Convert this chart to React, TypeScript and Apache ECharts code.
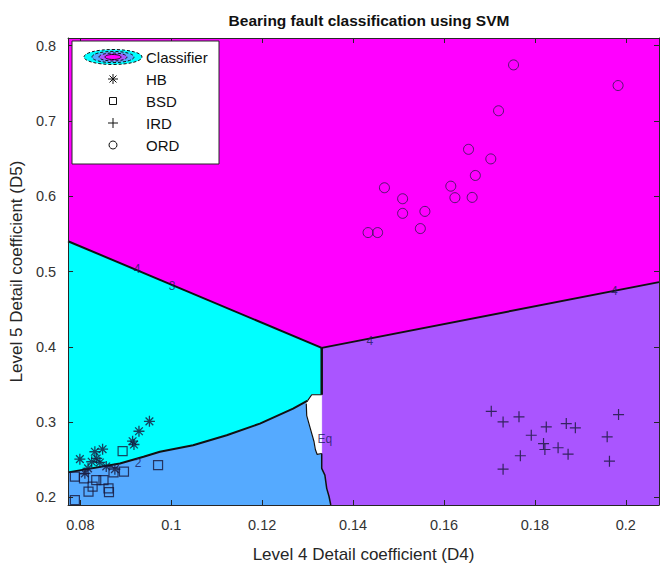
import React, { useEffect, useRef } from "react";
import * as echarts from "echarts";

const X_MIN = 0.0773;
const X_MAX = 0.2073;
const Y_MIN = 0.19;
const Y_MAX = 0.81;

const xTicks = [0.08, 0.1, 0.12, 0.14, 0.16, 0.18, 0.2];
const yTicks = [0.2, 0.3, 0.4, 0.5, 0.6, 0.7, 0.8];

const titleText = "Bearing fault classification using SVM";
const xName = "Level 4 Detail coefficient (D4)";
const yName = "Level 5 Detail coefficient (D5)";
const legendNames = ["Classifier", "HB", "BSD", "IRD", "ORD"];

// HB (asterisk)
const hbPoints = [
  [0.0952, 0.3011], [0.0929, 0.2879], [0.0915, 0.2747], [0.0918, 0.2703],
  [0.0849, 0.2641], [0.0832, 0.2607], [0.0799, 0.2509], [0.0836, 0.2518],
  [0.0843, 0.2465], [0.0825, 0.2474], [0.0876, 0.2376], [0.081, 0.232],
  [0.0817, 0.2386], [0.0857, 0.2412],
];
// BSD (square)
const bsdPoints = [
  [0.0893, 0.2615], [0.0971, 0.2429], [0.0896, 0.2342], [0.0788, 0.2276],
  [0.0808, 0.2253], [0.0835, 0.2231], [0.0851, 0.2231], [0.0873, 0.2333],
  [0.0827, 0.2144], [0.0818, 0.2078], [0.0862, 0.2121], [0.0863, 0.207],
  [0.0788, 0.1966],
];
// IRD (plus)
const irdPoints = [
  [0.1704, 0.3144], [0.173, 0.3003], [0.1765, 0.307], [0.1792, 0.2826],
  [0.1825, 0.2937], [0.1869, 0.2981], [0.1889, 0.2924], [0.1819, 0.2716],
  [0.1822, 0.2637], [0.1851, 0.266], [0.1873, 0.2575], [0.1768, 0.2554],
  [0.173, 0.2376], [0.1984, 0.31], [0.1959, 0.2805], [0.1964, 0.2482],
];
// ORD (circle)
const ordPoints = [
  [0.1753, 0.7743], [0.1983, 0.7469], [0.172, 0.7134], [0.1654, 0.6622],
  [0.1703, 0.6495], [0.1669, 0.6275], [0.1469, 0.6112], [0.1615, 0.6133],
  [0.1509, 0.5966], [0.1624, 0.598], [0.1662, 0.5984], [0.1509, 0.5772],
  [0.1558, 0.5798], [0.1548, 0.557], [0.1433, 0.5517], [0.1454, 0.5517],
];

// classifier decision regions
const magentaCyanLine = [[X_MIN, 0.5402], [0.1331, 0.3986]];
const magentaPurpleLine = [[0.1331, 0.3986], [X_MAX, 0.4859]];
const cyanPurpleLine = [[0.1331, 0.3986], [0.1331, 0.3364]];
const cyanBlueLine = [
  [X_MIN, 0.2333], [0.0887, 0.2452], [0.0939, 0.254], [0.0975, 0.2607],
  [0.1048, 0.2694], [0.1122, 0.2826], [0.1195, 0.2981], [0.1268, 0.3179],
  [0.13, 0.3285],
];
const whiteLeftEdge = [
  [0.1297, 0.3246], [0.1298, 0.3087], [0.1306, 0.2915], [0.1314, 0.2743],
  [0.1317, 0.2637], [0.1321, 0.2571], [0.1331, 0.2584],
];
const bluePurpleLine = [
  [0.1331, 0.2584], [0.1331, 0.2386], [0.1338, 0.2297], [0.1342, 0.2121],
  [0.1347, 0.2016], [0.1351, Y_MIN],
];
const whiteTopEdge = [[0.13, 0.3285], [0.1309, 0.3364], [0.1331, 0.3364]];

const magentaRegion = [[X_MIN, Y_MAX], [X_MAX, Y_MAX], ...magentaPurpleLine.slice().reverse(), [X_MIN, 0.5402]];
const purpleRegion = [...magentaPurpleLine, [X_MAX, Y_MIN], ...bluePurpleLine.slice().reverse()];
const cyanRegion = [...magentaCyanLine, [0.1331, 0.3364], [0.1309, 0.3364], ...cyanBlueLine.slice().reverse()];
const whiteRegion = [...whiteTopEdge, [0.1331, 0.2584], ...whiteLeftEdge.slice().reverse()];
const blueRegion = [...cyanBlueLine, ...whiteLeftEdge, ...bluePurpleLine.slice(1), [X_MIN, Y_MIN]];

const regions = [magentaRegion, purpleRegion, cyanRegion, blueRegion, whiteRegion];
const regionColors = ["#ff00ff", "#aa55ff", "#00ffff", "#55aaff", "#ffffff"];

const contourLabelTexts = ["4", "4", "3", "4", "2", "Eq"];
const contourLabelPoints = [
  [0.1437, 0.4079], [0.1975, 0.474], [0.1002, 0.4806], [0.0925, 0.5031],
  [0.0927, 0.2452], [0.1338, 0.2782],
];

const FONT = "'Liberation Sans', Arial, Helvetica, sans-serif";
const MARK = "#16163a";

const ASTERISK = "path://M5,0L5,10M0,5L10,5M1.5,1.5L8.5,8.5M8.5,1.5L1.5,8.5";
const PLUS = "path://M5,0L5,10M0,5L10,5";

function lineSeries(data: number[][], width: number) {
  return {
    type: "line",
    data,
    showSymbol: false,
    symbol: "none",
    silent: true,
    z: 3,
    lineStyle: { color: "#111", width },
  };
}

export default function App() {
  const ref = useRef<HTMLDivElement>(null);
  useEffect(() => {
    const chart = echarts.init(ref.current!, null, { renderer: "svg" });
    const axisCommon = {
      type: "value",
      splitLine: { show: false },
      axisLine: { show: true, lineStyle: { color: "#262626", width: 1 } },
      z: 10,
    };
    const lx = 113;
    const rows = [57, 79, 101, 123, 145];
    const legendGraphics: any[] = [
      { type: "rect", shape: { x: 72, y: 41, width: 147, height: 123 }, style: { fill: "#fff", stroke: "#262626", lineWidth: 1 }, z: 100 },
      { type: "ellipse", shape: { cx: lx, cy: rows[0], rx: 29, ry: 7.5 }, style: { fill: "#00ffff", stroke: "#111", lineWidth: 1, lineDash: [3, 2] }, z: 101 },
      { type: "ellipse", shape: { cx: lx, cy: rows[0], rx: 21, ry: 5.6 }, style: { fill: "#55aaff", stroke: "#111", lineWidth: 1, lineDash: [3, 2] }, z: 102 },
      { type: "ellipse", shape: { cx: lx, cy: rows[0], rx: 14, ry: 4 }, style: { fill: "#aa55ff", stroke: "#111", lineWidth: 1, lineDash: [3, 2] }, z: 103 },
      { type: "ellipse", shape: { cx: lx, cy: rows[0], rx: 8, ry: 2.5 }, style: { fill: "#ff00ff", stroke: "#111", lineWidth: 1 }, z: 104 },
      // HB asterisk
      { type: "line", shape: { x1: lx, y1: rows[1] - 5, x2: lx, y2: rows[1] + 5 }, style: { stroke: "#111", lineWidth: 1 }, z: 101 },
      { type: "line", shape: { x1: lx - 5, y1: rows[1], x2: lx + 5, y2: rows[1] }, style: { stroke: "#111", lineWidth: 1 }, z: 101 },
      { type: "line", shape: { x1: lx - 3.5, y1: rows[1] - 3.5, x2: lx + 3.5, y2: rows[1] + 3.5 }, style: { stroke: "#111", lineWidth: 1 }, z: 101 },
      { type: "line", shape: { x1: lx + 3.5, y1: rows[1] - 3.5, x2: lx - 3.5, y2: rows[1] + 3.5 }, style: { stroke: "#111", lineWidth: 1 }, z: 101 },
      // BSD square
      { type: "rect", shape: { x: lx - 3.5, y: rows[2] - 3.5, width: 7, height: 7 }, style: { fill: "none", stroke: "#111", lineWidth: 1 }, z: 101 },
      // IRD plus
      { type: "line", shape: { x1: lx, y1: rows[3] - 5, x2: lx, y2: rows[3] + 5 }, style: { stroke: "#111", lineWidth: 1 }, z: 101 },
      { type: "line", shape: { x1: lx - 5, y1: rows[3], x2: lx + 5, y2: rows[3] }, style: { stroke: "#111", lineWidth: 1 }, z: 101 },
      // ORD circle
      { type: "circle", shape: { cx: lx, cy: rows[4], r: 4 }, style: { fill: "none", stroke: "#111", lineWidth: 1 }, z: 101 },
      ...legendNames.map((n, i) => ({
        type: "text",
        x: 146,
        y: rows[i],
        style: { text: n, fill: "#111", font: `15px ${FONT}`, verticalAlign: "middle", align: "left" },
        z: 105,
      })),
    ];

    const option: any = {
      animation: false,
      backgroundColor: "#ffffff",
      title: {
        text: titleText,
        left: 364,
        textAlign: "center",
        top: 7,
        textStyle: { fontFamily: FONT, fontSize: 15.5, fontWeight: "bold", color: "#111" },
      },
      grid: { left: 68, right: 1, top: 38, bottom: 61, containLabel: false },
      xAxis: [
        {
          ...axisCommon,
          position: "bottom",
          min: X_MIN,
          max: X_MAX,
          name: xName,
          nameLocation: "middle",
          nameGap: 41,
          nameTextStyle: { fontFamily: FONT, fontSize: 17, color: "#262626" },
          axisTick: { show: true, inside: true, length: 5, customValues: xTicks, lineStyle: { color: "#262626" } },
          axisLabel: { show: true, margin: 12, customValues: xTicks, formatter: (v: number) => String(v), fontFamily: FONT, fontSize: 14.5, color: "#333" },
        },
        {
          ...axisCommon,
          position: "top",
          min: X_MIN,
          max: X_MAX,
          axisTick: { show: true, inside: true, length: 5, customValues: xTicks, lineStyle: { color: "#262626" } },
          axisLabel: { show: false },
        },
      ],
      yAxis: [
        {
          ...axisCommon,
          position: "left",
          min: Y_MIN,
          max: Y_MAX,
          name: yName,
          nameLocation: "middle",
          nameGap: 36,
          nameTextStyle: { fontFamily: FONT, fontSize: 17, color: "#262626" },
          axisTick: { show: true, inside: true, length: 5, customValues: yTicks, lineStyle: { color: "#262626" } },
          axisLabel: { show: true, margin: 12, customValues: yTicks, formatter: (v: number) => String(v), fontFamily: FONT, fontSize: 14.5, color: "#333" },
        },
        {
          ...axisCommon,
          position: "right",
          min: Y_MIN,
          max: Y_MAX,
          axisTick: { show: true, inside: true, length: 5, customValues: yTicks, lineStyle: { color: "#262626" } },
          axisLabel: { show: false },
        },
      ],
      graphic: legendGraphics,
      series: [
        {
          name: "Classifier",
          type: "custom",
          clip: true,
          silent: true,
          z: 1,
          data: regions.map((_, i) => [i]),
          dimensions: ["idx"],
          encode: { x: [], y: [] },
          renderItem: (params: any, api: any) => {
            const idx = api.value(0);
            const pts = regions[idx].map((p) => api.coord(p));
            return {
              type: "polygon",
              shape: { points: pts },
              style: { fill: regionColors[idx], stroke: regionColors[idx], lineWidth: 0.5 },
            };
          },
        },
        lineSeries(magentaCyanLine, 2),
        lineSeries(magentaPurpleLine, 2),
        lineSeries(cyanPurpleLine, 2.5),
        lineSeries(cyanBlueLine, 2),
        lineSeries(whiteLeftEdge, 1.2),
        lineSeries(whiteTopEdge, 1.2),
        lineSeries(bluePurpleLine, 1.5),
        {
          name: "HB",
          type: "scatter",
          data: hbPoints,
          symbol: ASTERISK,
          symbolSize: 11,
          z: 5,
          itemStyle: { color: "transparent", borderColor: MARK, borderWidth: 1.3 },
        },
        {
          name: "BSD",
          type: "scatter",
          data: bsdPoints,
          symbol: "rect",
          symbolSize: 9,
          z: 5,
          itemStyle: { color: "transparent", borderColor: MARK, borderWidth: 1.2 },
        },
        {
          name: "IRD",
          type: "scatter",
          data: irdPoints,
          symbol: PLUS,
          symbolSize: 11,
          z: 5,
          itemStyle: { color: "transparent", borderColor: MARK, borderWidth: 1.2 },
        },
        {
          name: "ORD",
          type: "scatter",
          data: ordPoints,
          symbol: "circle",
          symbolSize: 10,
          z: 5,
          itemStyle: { color: "transparent", borderColor: "#2a1a4a", borderWidth: 1 },
        },
        {
          name: "labels",
          type: "scatter",
          symbolSize: 1,
          z: 6,
          silent: true,
          itemStyle: { color: "transparent" },
          data: contourLabelPoints.map((p, i) => ({ value: p, name: contourLabelTexts[i] })),
          label: { show: true, position: "inside", formatter: "{b}", color: "#1a1a5a", fontFamily: FONT, fontSize: 12 },
        },
      ],
    };
    chart.setOption(option);
    return () => chart.dispose();
  }, []);
  return (
    <div
      ref={ref}
      style={{ position: "fixed", left: 0, top: 0, width: 660, height: 568, background: "#fff" }}
    />
  );
}
